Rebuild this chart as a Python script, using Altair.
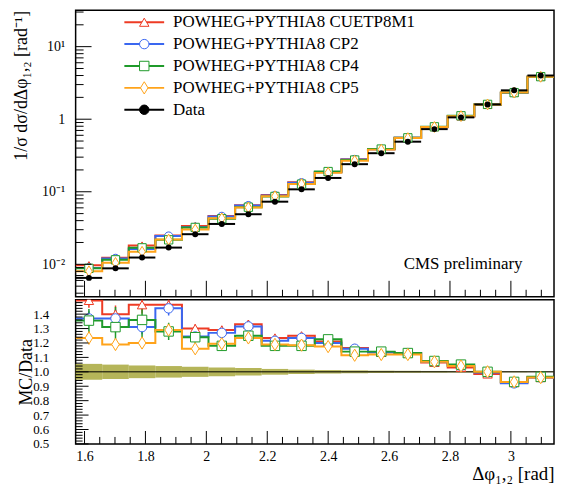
import altair as alt
import pandas as pd

# ---------------- data ----------------
edges = [1.5708, 1.6581, 1.7453, 1.8326, 1.9199, 2.0071, 2.0944, 2.1817, 2.2689,
         2.3562, 2.4435, 2.5307, 2.6180, 2.7053, 2.7925, 2.8798, 2.9671, 3.0543, 3.1416]

data_vals = [0.0065, 0.0088, 0.0124, 0.017, 0.026, 0.036, 0.049, 0.073, 0.108,
             0.155, 0.24, 0.34, 0.49, 0.73, 1.06, 1.6, 2.5, 4.0]
data_relerr = [0.055, 0.05, 0.044, 0.04, 0.035, 0.03, 0.026, 0.02, 0.015,
               0.012, 0.01, 0.008, 0.007, 0.006, 0.005, 0.004, 0.004, 0.003]

series_names = ["POWHEG+PYTHIA8 CUETP8M1", "POWHEG+PYTHIA8 CP2",
                "POWHEG+PYTHIA8 CP4", "POWHEG+PYTHIA8 CP5"]
data_name = "Data"

ratio_cuetp8m1 = [1.495, 1.40, 1.465, 1.465, 1.30, 1.29, 1.33, 1.235, 1.25,
                  1.21, 1.165, 1.135, 1.13, 1.065, 1.03, 0.985, 0.925, 0.96]
ratio_cp2 = [1.37, 1.37, 1.31, 1.44, 1.245, 1.27, 1.315, 1.215, 1.235,
             1.20, 1.16, 1.135, 1.13, 1.07, 1.04, 0.995, 0.92, 0.96]
ratio_cp4 = [1.355, 1.31, 1.36, 1.28, 1.24, 1.18, 1.25, 1.18, 1.18,
             1.225, 1.14, 1.14, 1.13, 1.075, 1.05, 1.0, 0.93, 0.965]
ratio_cp5 = [1.235, 1.19, 1.20, 1.29, 1.16, 1.195, 1.235, 1.19, 1.185,
             1.175, 1.115, 1.12, 1.12, 1.07, 1.04, 1.0, 0.93, 0.96]

err_cuetp8m1 = [0.05, 0.06, 0.06, 0.05, 0.03, 0.03, 0.03, 0.02, 0.02,
                0.015, 0.01, 0.01, 0.008, 0.006, 0.005, 0.004, 0.004, 0.003]
err_cp2 = [0.05, 0.06, 0.05, 0.05, 0.03, 0.03, 0.03, 0.02, 0.02,
           0.015, 0.01, 0.01, 0.008, 0.006, 0.005, 0.004, 0.004, 0.003]
err_cp4 = [0.08, 0.14, 0.12, 0.06, 0.04, 0.03, 0.03, 0.02, 0.02,
           0.015, 0.01, 0.01, 0.008, 0.006, 0.005, 0.004, 0.004, 0.003]
err_cp5 = [0.045, 0.04, 0.04, 0.04, 0.03, 0.03, 0.02, 0.02, 0.015,
           0.012, 0.01, 0.008, 0.006, 0.005, 0.004, 0.004, 0.003, 0.003]

x_major = [1.6, 1.8, 2.0, 2.2, 2.4, 2.6, 2.8, 3.0]
x_minor = [1.65, 1.7, 1.75, 1.85, 1.9, 1.95, 2.05, 2.1, 2.15, 2.25, 2.3, 2.35,
           2.45, 2.5, 2.55, 2.65, 2.7, 2.75, 2.85, 2.9, 2.95, 3.05, 3.1]
ylog_major = [0.01, 0.1, 1, 10]
ylog_minor = [0.004, 0.005, 0.006, 0.007, 0.008, 0.009,
              0.02, 0.03, 0.04, 0.05, 0.06, 0.07, 0.08, 0.09,
              0.2, 0.3, 0.4, 0.5, 0.6, 0.7, 0.8, 0.9,
              2, 3, 4, 5, 6, 7, 8, 9, 20, 30]
yrat_major = [0.5, 0.6, 0.7, 0.8, 0.9, 1.0, 1.1, 1.2, 1.3, 1.4]
yrat_minor = [round(0.5 + 0.02 * k, 2) for k in range(51) if k % 5 != 0]

cms_label = "CMS preliminary"

# ---------------- styling ----------------
colors = ["#ee3b24", "#3a67f0", "#1f9a2a", "#ffa31a", "black"]
diamond = "M0,-1.3L0.8,0L0,1.3L-0.8,0Z"
shapes = ["triangle-up", "circle", "square", diamond, "circle"]
fills = ["white", "white", "white", "white", "black"]
olive = "#a8a83c"
FONT = "Liberation Serif"

W, H1, H2 = 481, 288, 145

domain_all = series_names + [data_name]
cscale = alt.Scale(domain=domain_all, range=colors)
sscale = alt.Scale(domain=domain_all, range=shapes)
fscale = alt.Scale(domain=domain_all, range=fills)

xscale = alt.Scale(domain=[edges[0], edges[-1]], nice=False, zero=False)
ytop_scale = alt.Scale(type="log", domain=[0.003575, 31.7], nice=False)
yrat_scale = alt.Scale(domain=[0.5, 1.5], nice=False, zero=False)

# ---------------- tables ----------------
nb = len(data_vals)
bins_df = pd.DataFrame({
    "lo": edges[:-1], "hi": edges[1:],
    "center": [(edges[i] + edges[i + 1]) / 2 for i in range(nb)],
    "data": data_vals, "err": data_relerr,
})

ratios = [ratio_cuetp8m1, ratio_cp2, ratio_cp4, ratio_cp5]
errs = [err_cuetp8m1, err_cp2, err_cp4, err_cp5]
step_rows, pt_rows = [], []
for s, rat, er in zip(series_names, ratios, errs):
    for i in range(nb):
        step_rows.append({"series": s, "x": edges[i], "ratio": rat[i], "data": data_vals[i]})
        pt_rows.append({"series": s, "center": bins_df.center[i], "ratio": rat[i],
                        "err": er[i], "data": data_vals[i]})
    step_rows.append({"series": s, "x": edges[-1], "ratio": rat[-1], "data": data_vals[-1]})
step_df = pd.DataFrame(step_rows)
pt_df = pd.DataFrame(pt_rows)
legend_df = pd.DataFrame({"series": domain_all})

# ---------------- axes ----------------
ytop_axis = alt.Axis(values=ylog_major,
                     labelExpr="datum.value >= 10 ? '10¹' : datum.value >= 1 ? '1' : datum.value >= 0.1 ? '10⁻¹' : '10⁻²'",
                     ticks=False, domain=False, grid=False, labelPadding=11, labelFontSize=14,
                     title="1/σ dσ/dΔφ₁,₂ [rad⁻¹]", titleFontSize=18, titleAnchor="end",
                     titlePadding=5, minExtent=40, maxExtent=40, labelOverlap=False)
yrat_axis = alt.Axis(values=yrat_major, format=".1f", ticks=False, domain=False, grid=False,
                     labelPadding=27, labelFontSize=13, title="MC/Data", titleFontSize=18,
                     titlePadding=2, minExtent=38, maxExtent=38, labelOverlap=False)
xrat_axis = alt.Axis(values=x_major, format="~g", ticks=False, domain=False, grid=False,
                     labelPadding=6, labelFontSize=14, title="Δφ₁,₂ [rad]", titleFontSize=19,
                     titleAnchor="end", titlePadding=1, labelOverlap=False)

# ---------------- top panel ----------------
def X(field, axis=None):
    return alt.X(field, scale=xscale, axis=axis)

def YT(field):
    return alt.Y(field, scale=ytop_scale, axis=ytop_axis)

def YR(field):
    return alt.Y(field, scale=yrat_scale, axis=yrat_axis)

mc_line_top = alt.Chart(step_df).transform_calculate(mc="datum.ratio * datum.data").mark_line(
    interpolate="step-after", strokeWidth=2, clip=True).encode(
    x=X("x:Q"), y=YT("mc:Q"),
    color=alt.Color("series:N", scale=cscale, legend=None), order="x:Q")

data_rule_top = alt.Chart(bins_df).mark_rule(color="black", strokeWidth=2).encode(
    x=X("lo:Q"), x2="hi:Q", y=YT("data:Q"))

mc_pts_top = alt.Chart(pt_df).transform_calculate(mc="datum.ratio * datum.data").mark_point(
    size=70, strokeWidth=1, opacity=1, fillOpacity=1, filled=False).encode(
    x=X("center:Q"), y=YT("mc:Q"),
    color=alt.Color("series:N", scale=cscale, legend=None),
    shape=alt.Shape("series:N", scale=sscale, legend=None),
    fill=alt.Fill("series:N", scale=fscale, legend=None))

data_pts_top = alt.Chart(bins_df).mark_circle(size=36, color="black", opacity=1).encode(
    x=X("center:Q"), y=YT("data:Q"))

def xticks(vals, h, length):
    return alt.Chart(pd.DataFrame({"v": vals})).mark_rule(color="black", strokeWidth=1).encode(
        x=X("v:Q"), y=alt.value(h), y2=alt.value(h - length))

def yticks(vals, length, yfn):
    return alt.Chart(pd.DataFrame({"v": vals})).mark_rule(color="black", strokeWidth=1).encode(
        y=yfn("v:Q"), x=alt.value(0), x2=alt.value(length))

cms_text = alt.Chart(pd.DataFrame({"t": [cms_label]})).mark_text(
    align="left", baseline="alphabetic", fontSize=17, font=FONT, color="black").encode(
    x=alt.value(330), y=alt.value(260), text="t:N")

main_top = alt.layer(
    mc_line_top, data_rule_top, mc_pts_top, data_pts_top,
    xticks(x_major, H1, 16), xticks(x_minor, H1, 7),
    yticks(ylog_major, 16, YT), yticks(ylog_minor, 8, YT),
    cms_text,
)

ly = alt.Y("series:N", scale=alt.Scale(type="point", domain=domain_all, range=[12, 100], padding=0),
           axis=None)
leg_line = alt.Chart(legend_df).mark_rule(strokeWidth=2).encode(
    x=alt.value(49), x2=alt.value(89), y=ly,
    color=alt.Color("series:N", scale=cscale, legend=None))
leg_pt = alt.Chart(legend_df).mark_point(size=90, strokeWidth=1, opacity=1, fillOpacity=1,
                                         filled=False).encode(
    x=alt.value(69), y=ly,
    color=alt.Color("series:N", scale=cscale, legend=None),
    shape=alt.Shape("series:N", scale=sscale, legend=None),
    fill=alt.Fill("series:N", scale=fscale, legend=None))
leg_txt = alt.Chart(legend_df).mark_text(align="left", baseline="middle", fontSize=17,
                                         font=FONT, color="black").encode(
    x=alt.value(98), y=ly, text="series:N")
legend_layer = alt.layer(leg_line, leg_pt, leg_txt)

top = alt.layer(main_top, legend_layer).resolve_scale(y="independent").properties(width=W, height=H1)

# ---------------- ratio panel ----------------
def XR(field):
    return alt.X(field, scale=xscale, axis=xrat_axis)

band = alt.Chart(bins_df).transform_calculate(
    elo="1 - datum.err", ehi="1 + datum.err").mark_rect(color=olive, opacity=0.85).encode(
    x=XR("lo:Q"), x2="hi:Q", y=YR("elo:Q"), y2="ehi:Q")

one_line = alt.Chart(pd.DataFrame({"v": [1.0]})).mark_rule(color="black", strokeWidth=1).encode(
    y=YR("v:Q"))

mc_line_rat = alt.Chart(step_df).mark_line(interpolate="step-after", strokeWidth=2, clip=True).encode(
    x=XR("x:Q"), y=YR("ratio:Q"),
    color=alt.Color("series:N", scale=cscale, legend=None), order="x:Q")

mc_err_rat = alt.Chart(pt_df).transform_calculate(
    elo="datum.ratio - datum.err", ehi="datum.ratio + datum.err").mark_rule(
    strokeWidth=1.5, clip=True).encode(
    x=XR("center:Q"), y=YR("elo:Q"), y2="ehi:Q",
    color=alt.Color("series:N", scale=cscale, legend=None))

mc_pts_rat = alt.Chart(pt_df).mark_point(size=90, strokeWidth=1, opacity=1, fillOpacity=1,
                                         filled=False, clip=True).encode(
    x=XR("center:Q"), y=YR("ratio:Q"),
    color=alt.Color("series:N", scale=cscale, legend=None),
    shape=alt.Shape("series:N", scale=sscale, legend=None),
    fill=alt.Fill("series:N", scale=fscale, legend=None))

def xticks_r(vals, length):
    return alt.Chart(pd.DataFrame({"v": vals})).mark_rule(color="black", strokeWidth=1).encode(
        x=XR("v:Q"), y=alt.value(H2), y2=alt.value(H2 - length))

ratio = alt.layer(
    band, one_line, mc_line_rat, mc_err_rat, mc_pts_rat,
    xticks_r(x_major, 13), xticks_r(x_minor, 7),
    yticks(yrat_major, 13, YR), yticks(yrat_minor, 7, YR),
).properties(width=W, height=H2)

chart = alt.vconcat(top, ratio, spacing=0).resolve_scale(x="independent").properties(
    padding={"left": 4, "top": 0, "right": 0, "bottom": 0}
).configure_view(stroke="black", strokeWidth=1.5).configure_axis(
    labelFont=FONT, titleFont=FONT, labelColor="black", titleColor="black",
    titleFontWeight="normal", grid=False
).configure_text(font=FONT)

chart.save("out.html", embed_options={"renderer": "svg", "actions": False})
